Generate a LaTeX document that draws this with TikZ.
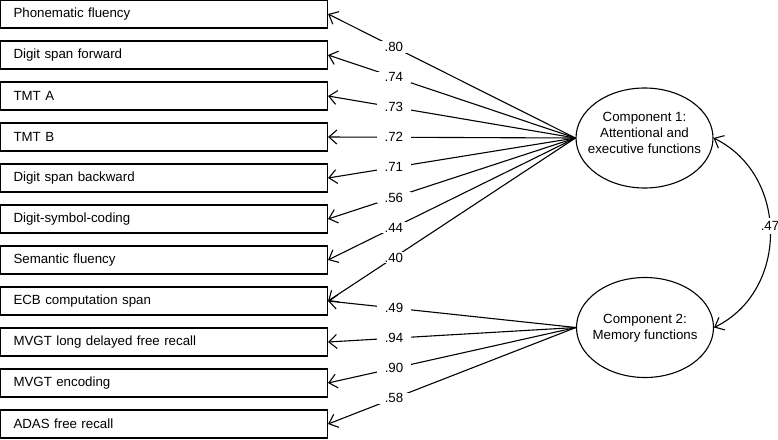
\documentclass[tikz,border=0pt]{standalone}
\usepackage{fontspec}
\setmainfont{Liberation Sans}
\usetikzlibrary{arrows.meta,shapes.geometric}
\begin{document}
\begin{tikzpicture}[x=1pt,y=-1pt,
  every node/.style={font=\fontsize{13.3}{16}\selectfont},
  var/.style={draw, line width=1.1pt, minimum height=28pt, text width=301pt, inner xsep=13pt, inner ysep=0pt, align=left},
  comp/.style={draw, ellipse, line width=1.1pt, minimum width=137pt, minimum height=100pt, inner sep=0pt},
  ctext/.style={align=center, inner sep=0pt},
  lbl/.style={fill=white, inner xsep=8pt, inner ysep=1pt},
  arr/.style={line width=1.1pt, -{Straight Barb[length=8pt,width=14pt]}}]
\useasboundingbox (0,0) rectangle (778,439);
% observed variables
\node[var] (b1)  at (164,14)  {Phonematic fluency};
\node[var] (b2)  at (164,55)  {Digit span forward};
\node[var] (b3)  at (164,96)  {TMT A};
\node[var] (b4)  at (164,137) {TMT B};
\node[var] (b5)  at (164,178) {Digit span backward};
\node[var] (b6)  at (164,219) {Digit-symbol-coding};
\node[var] (b7)  at (164,260) {Semantic fluency};
\node[var] (b8)  at (164,301) {ECB computation span};
\node[var] (b9)  at (164,342) {MVGT long delayed free recall};
\node[var] (b10) at (164,383) {MVGT encoding};
\node[var] (b11) at (164,424) {ADAS free recall};
% components
\node[comp] (c1) at (644.5,138) {};
\node[ctext] (t1) at (644.5,133) {Component 1:\\Attentional and\\executive functions};
\node[comp] (c2) at (645,327.5) {};
\node[ctext] (t2) at (645,328) {Component 2:\\Memory functions};
% loadings component 1
\draw[arr] (c1.west) -- node[lbl,pos=0.734] {.80} (b1.east);
\draw[arr] (c1.west) -- node[lbl,pos=0.734] {.74} (b2.east);
\draw[arr] (c1.west) -- node[lbl,pos=0.734] {.73} (b3.east);
\draw[arr] (c1.west) -- node[lbl,pos=0.734] {.72} (b4.east);
\draw[arr] (c1.west) -- node[lbl,pos=0.734] {.71} (b5.east);
\draw[arr] (c1.west) -- node[lbl,pos=0.734] {.56} (b6.east);
\draw[arr] (c1.west) -- node[lbl,pos=0.734] {.44} (b7.east);
\draw[arr] (c1.west) -- node[lbl,pos=0.734] {.40} (b8.east);
% loadings component 2
\draw[arr] (c2.west) -- node[lbl,pos=0.734] {.49} (b8.east);
\draw[arr] (c2.west) -- node[lbl,pos=0.734] {.94} (b9.east);
\draw[arr] (c2.west) -- node[lbl,pos=0.734] {.90} (b10.east);
\draw[arr] (c2.west) -- node[lbl,pos=0.734] {.58} (b11.east);
% correlation
\draw[line width=1.1pt, {Straight Barb[length=8pt,width=14pt]}-{Straight Barb[length=8pt,width=14pt]}]
  (c1.east) .. controls (789,175) and (789,291) .. node[pos=0.47, fill=white, inner xsep=1pt, inner ysep=3pt] {.47} (c2.east);
\end{tikzpicture}
\end{document}
